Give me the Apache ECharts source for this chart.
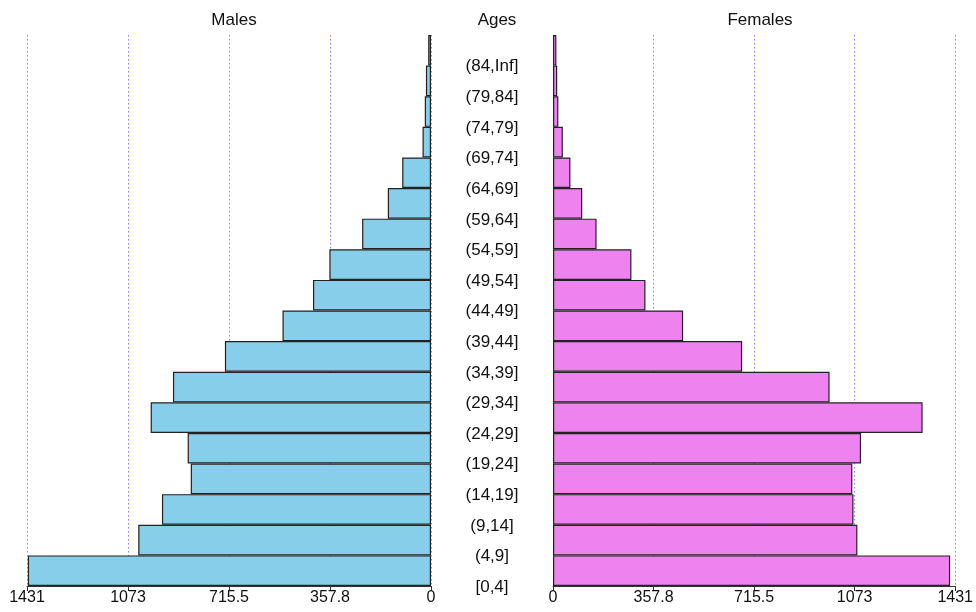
<!DOCTYPE html>
<html>
<head>
<meta charset="utf-8">
<script src="https://cdn.jsdelivr.net/npm/echarts@6/dist/echarts.min.js"></script>
<style>html,body{margin:0;padding:0;background:#fff}#c{width:976px;height:612px}</style>
</head>
<body>
<div id="c"></div>
<script>
var ageGroups = ['[0,4]','(4,9]','(9,14]','(14,19]','(19,24]','(24,29]','(29,34]','(34,39]','(39,44]','(44,49]','(49,54]','(54,59]','(59,64]','(64,69]','(69,74]','(74,79]','(79,84]','(84,Inf]'];
var males =   [1428, 1037, 953, 851, 862, 993, 914, 730, 526, 418, 360, 244, 153, 102, 30, 22, 18, 10];
var females = [1413, 1083, 1069, 1065, 1096, 1315, 984, 673, 463, 329, 279, 155, 104, 62, 35, 19, 15, 12];
var tickValues = [0, 357.75, 715.5, 1073.25, 1431];
var tickLabels = ['0', '357.8', '715.5', '1073', '1431'];
var axisMax = 1431;
var axisInterval = 357.75;

function fmtTick(v) {
  var best = 0, d = Infinity;
  for (var i = 0; i < tickValues.length; i++) {
    var dd = Math.abs(tickValues[i] - v);
    if (dd < d) { d = dd; best = i; }
  }
  return tickLabels[best];
}

var font = 'Liberation Sans, Arial, sans-serif';
var chart = echarts.init(document.getElementById('c'), null, {renderer: 'canvas'});

function xAx(gridIndex, inverse) {
  return {
    type: 'value', gridIndex: gridIndex, min: 0, max: axisMax, interval: axisInterval,
    inverse: inverse, position: 'bottom',
    axisLine: {show: true, lineStyle: {color: '#333', width: 1}},
    axisTick: {show: true, length: 5, lineStyle: {color: '#333'}},
    axisLabel: {show: true, color: '#111', fontSize: 16, fontFamily: font, margin: 4, formatter: fmtTick,
      showMinLabel: true, showMaxLabel: true, hideOverlap: false},
    splitLine: {show: true, lineStyle: {color: '#8585ff', type: [1.5, 2.5], width: 1}}
  };
}

var titleStyle = {fontSize: 17, fontWeight: 'normal', color: '#111', fontFamily: font};

chart.setOption({
  animation: false,
  backgroundColor: '#fff',
  title: [
    {text: 'Males', left: 229, top: 7, textAlign: 'center', textStyle: titleStyle},
    {text: 'Ages', left: 492, top: 7, textAlign: 'center', textStyle: titleStyle},
    {text: 'Females', left: 755, top: 7, textAlign: 'center', textStyle: titleStyle}
  ],
  grid: [
    {left: 27, width: 404, top: 35, bottom: 26, containLabel: false},
    {left: 553, width: 404, top: 35, bottom: 26, containLabel: false}
  ],
  xAxis: [xAx(0, true), xAx(1, false)],
  yAxis: [
    {type: 'category', gridIndex: 0, data: ageGroups, axisLine: {show: false}, axisTick: {show: false}, axisLabel: {show: false}},
    {type: 'category', gridIndex: 1, data: ageGroups, position: 'left', axisLine: {show: false}, axisTick: {show: false},
      axisLabel: {show: true, interval: 0, showMinLabel: true, showMaxLabel: true, hideOverlap: false,
        align: 'center', verticalAlign: 'top', lineHeight: 33, margin: 61, color: '#111', fontSize: 17, fontFamily: font}}
  ],
  series: [
    {type: 'bar', name: 'Males', xAxisIndex: 0, yAxisIndex: 0, data: males, barCategoryGap: 0,
      itemStyle: {color: '#87CEEB', borderColor: '#222', borderWidth: 1.2}},
    {type: 'bar', name: 'Females', xAxisIndex: 1, yAxisIndex: 1, data: females, barCategoryGap: 0,
      itemStyle: {color: '#EE82EE', borderColor: '#222', borderWidth: 1.2}}
  ]
});
</script>
</body>
</html>
